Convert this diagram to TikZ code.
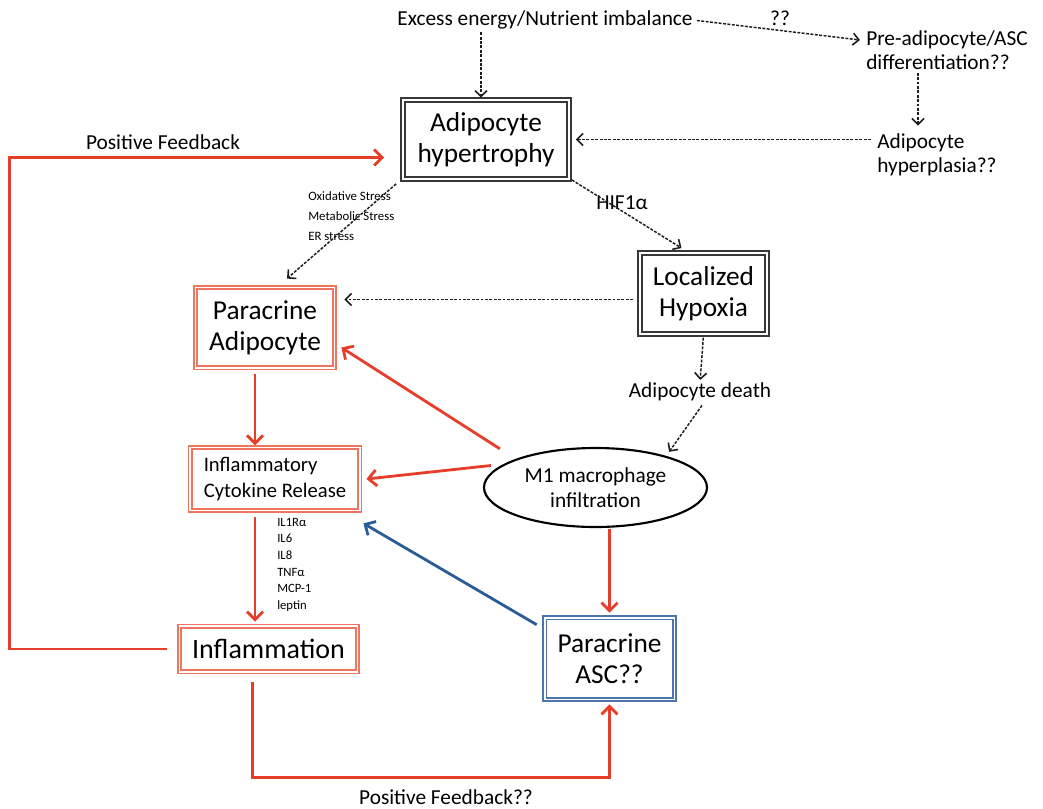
\documentclass[tikz,border=0pt]{standalone}
\usepackage{fontspec}
\setmainfont{Carlito}
\usetikzlibrary{arrows.meta,shapes.geometric,calc}
\definecolor{fbred}{RGB}{230,62,42}
\definecolor{boxred}{RGB}{238,118,96}
\definecolor{boxblue}{RGB}{78,116,176}
\definecolor{arrblue}{RGB}{42,92,152}
\definecolor{boxgray}{RGB}{55,55,55}
\definecolor{dashgray}{RGB}{30,30,30}
\newcommand{\fs}[2]{\fontsize{#1}{#2}\selectfont}
\begin{document}
\begin{tikzpicture}[x=0.75pt,y=-0.75pt,
  darkbox/.style={draw=boxgray,double=white,line width=1.7pt,double distance=1.5pt,align=center,inner sep=0pt,font=\fs{20.5}{23}},
  redbox/.style={draw=boxred,double=white,line width=1.2pt,double distance=1.3pt,align=center,inner sep=0pt},
  bluebox/.style={draw=boxblue,double=white,line width=1.4pt,double distance=1.3pt,align=center,inner sep=0pt,font=\fs{20.5}{23}},
  lbl/.style={font=\fs{16}{18},inner sep=0pt},
  darr/.style={draw=dashgray,line width=1.1pt,dash pattern=on 2.2pt off 1.1pt,-{Straight Barb[length=4.5pt,width=9pt,line width=1.2pt]}},
  rarr/.style={draw=fbred,line width=2.1pt,-{Straight Barb[length=6pt,width=12pt]}},
  barr/.style={draw=arrblue,line width=2.1pt,-{Straight Barb[length=6pt,width=12pt]}},
]
\fill[white] (0,0) rectangle (1043,808);
\useasboundingbox (0,0) rectangle (1043,808);

% nodes
\node[lbl] (excess) at (545,20) {Excess energy/Nutrient imbalance};
\node[lbl] (qq) at (780,18) {??};
\node[lbl,anchor=west,align=left] (pre) at (866,50) {Pre-adipocyte/ASC\\differentiation??};
\node[lbl,anchor=west,align=left] (hypl) at (877,155) {Adipocyte\\hyperplasia??};
\node[darkbox,minimum width=124.2pt,minimum height=59pt] (hyper) at (486,139.5) {Adipocyte\\hypertrophy};
\node[darkbox,minimum width=95pt,minimum height=60.5pt] (hypox) at (703.5,293.5) {Localized\\Hypoxia};
\node[redbox,font=\fs{20.5}{23},minimum width=104.4pt,minimum height=60.2pt] (paraA) at (265,327.5) {Paracrine\\Adipocyte};
\node[redbox,font=\fs{15.5}{19},align=left,minimum width=127pt,minimum height=47.4pt] (infl) at (275,479) {Inflammatory\\Cytokine Release};
\node[redbox,font=\fs{21}{24},minimum width=133.6pt,minimum height=34pt] (inflam) at (268.5,649) {Inflammation};
\node[bluebox,minimum width=97.3pt,minimum height=61.3pt] (asc) at (609.5,658.5) {Paracrine\\ASC??};
\node[ellipse,draw=black,line width=1.6pt,minimum width=167.25pt,minimum height=59.25pt,inner sep=0pt,align=center,font=\fs{16}{19}] (m1) at (595.5,487.5) {M1 macrophage\\infiltration};
\node[lbl] (death) at (700,392) {Adipocyte death};
\node[lbl] (hif) at (622,203) {HIF1α};
\node[font=\fs{9.6}{15},align=left,anchor=north west,inner sep=0pt] (stress) at (308,191) {Oxidative Stress\\Metabolic Stress\\ER stress};
\node[font=\fs{9.5}{12.4},align=left,anchor=north west,inner sep=0pt] (cyto) at (277,518) {IL1Rα\\IL6\\IL8\\TNFα\\MCP-1\\leptin};
\node[lbl] (pf) at (163,142) {Positive Feedback};
\node[lbl] (pf2) at (446,797) {Positive Feedback??};

% dashed connectors
\coordinate (exdown) at ($(hyper.north)+(-5,0)$);
\draw[darr,shorten <=2pt,shorten >=1pt] (excess.south -| exdown) -- (exdown);
\draw[darr,shorten <=3pt] (excess.east) -- ($(pre.west)+(-6,-10)$);
\draw[darr] ($(pre.south west)+(52,3)$) -- ($(hypl.north west)+(41,-8)$);
\coordinate (hy1) at (hypl.west |- hyper.east);
\draw[darr] ($(hy1)+(-6,0)$) -- ($(hyper.east)+(6,0)$);
\draw[darr] ($(hyper.south west)+(-6,4)$) -- ($(paraA.north)+(22,-8)$);
\draw[darr] ($(hyper.south east)+(2,0)$) -- ($(hypox.north)+(-22,-4)$);
\coordinate (pe) at (paraA.east |- hypox.west);
\draw[darr] ($(hypox.west)+(-6,6)$) -- ($(pe)+(9,6)$);
\draw[darr,shorten <=2pt,shorten >=2pt] (hypox.south) -- (death.north);
\draw[darr] ($(death.south)+(2,4)$) -- ($(m1.north east)+(-6,-7)$);

% red connectors
\draw[rarr] ($(m1.north west)+(-16,-10)$) -- ($(paraA.east)+(6,20)$);
\draw[rarr] ($(m1.west)+(8,-22)$) -- ($(infl.east)+(6,0)$);
\draw[rarr,shorten <=1pt,shorten >=3pt] (m1.south -| asc.north) -- (asc.north);
\coordinate (a1) at ($(paraA.south)+(-10,0)$);
\draw[rarr,shorten <=4pt,shorten >=1pt] (a1) -- (a1 |- infl.north);
\coordinate (a2) at ($(infl.south)+(-20,0)$);
\draw[rarr,shorten <=4pt,shorten >=3pt] (a2) -- (a2 |- inflam.north);
\draw[rarr,shorten <=9pt] (inflam.west) -- ++(-169,0) |- ($(hyper.west)+(-18,18)$);
\draw[rarr,shorten >=3pt] ($(inflam.south)+(-16,10)$) -- ++(0,95) -| (asc.south);

% blue connector
\draw[barr] ($(asc.north west)+(-7,8)$) -- ($(infl.south east)+(3,12)$);
\end{tikzpicture}
\end{document}
